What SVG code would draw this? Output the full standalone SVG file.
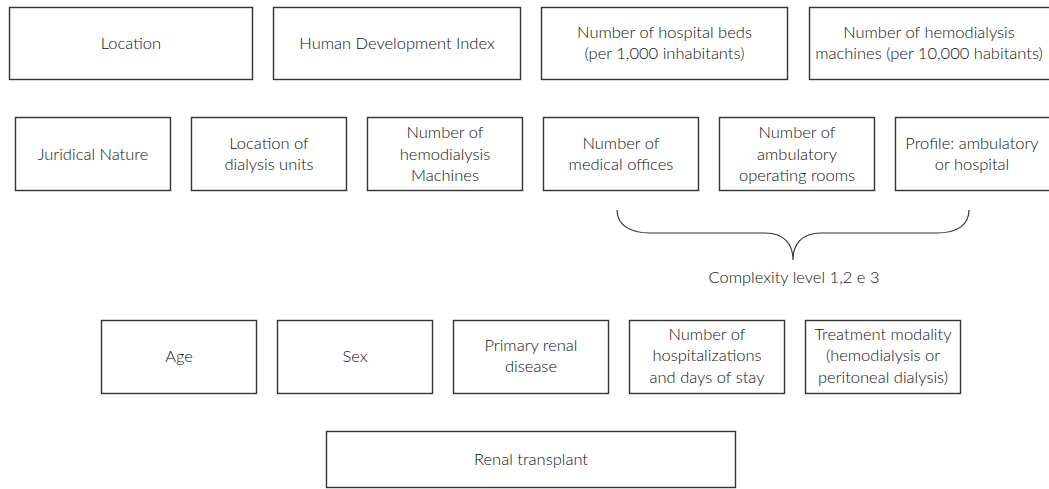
<svg xmlns="http://www.w3.org/2000/svg" width="1049" height="489" viewBox="0 0 1049 489">
<style>
.box{fill:#fff;stroke:#333;stroke-width:1.4}
.t{font-family:Lato,"Noto Sans","Liberation Sans",sans-serif;font-size:16.5px;font-weight:300;fill:#111;text-anchor:middle}
.brace{fill:none;stroke:#333;stroke-width:1.2}
</style>
<rect width="1049" height="489" fill="#fff"/>
<g id="n-location"><rect class="box" x="9.5" y="7.5" width="243" height="72"/><text class="t" x="131" y="49">Location</text></g>
<g id="n-hdi"><rect class="box" x="273.5" y="7.5" width="247" height="72"/><text class="t" x="397" y="49">Human Development Index</text></g>
<g id="n-beds"><rect class="box" x="541.5" y="7.5" width="246" height="72"/><text class="t" x="664.5" y="38">Number of hospital beds</text><text class="t" x="664.5" y="59">(per 1,000 inhabitants)</text></g>
<g id="n-hdmach"><rect class="box" x="809.5" y="7.5" width="245" height="72"/><text class="t" x="929" y="38">Number of hemodialysis</text><text class="t" x="929" y="59">machines (per 10,000 habitants)</text></g>

<g id="n-juridical"><rect class="box" x="15.5" y="117.5" width="155" height="73"/><text class="t" x="93" y="160">Juridical Nature</text></g>
<g id="n-locunits"><rect class="box" x="191.5" y="117.5" width="155" height="73"/><text class="t" x="269" y="149">Location of</text><text class="t" x="269" y="170">dialysis units</text></g>
<g id="n-nhd"><rect class="box" x="367.5" y="117.5" width="155" height="73"/><text class="t" x="445" y="138">Number of</text><text class="t" x="445" y="160">hemodialysis</text><text class="t" x="445" y="181">Machines</text></g>
<g id="n-offices"><rect class="box" x="543.5" y="117.5" width="155" height="73"/><text class="t" x="621" y="149">Number of</text><text class="t" x="621" y="170">medical offices</text></g>
<g id="n-rooms"><rect class="box" x="719.5" y="117.5" width="155" height="73"/><text class="t" x="797" y="138">Number of</text><text class="t" x="797" y="160">ambulatory</text><text class="t" x="797" y="181">operating rooms</text></g>
<g id="n-profile"><rect class="box" x="895.5" y="117.5" width="165" height="73"/><text class="t" x="972" y="149">Profile: ambulatory</text><text class="t" x="972" y="170">or hospital</text></g>

<g id="connectors">
<path class="brace" d="M617,210 C617,225 630,233 650,233 L765,233 C785,233 793,245 793,260 C793,245 801,233 821,233 L937,233 C957,233 969,225 969,210"/>
</g>
<g id="n-complexity"><text class="t" x="794" y="283">Complexity level 1,2 e 3</text></g>

<g id="n-age"><rect class="box" x="101.5" y="320.5" width="155" height="73"/><text class="t" x="179" y="362">Age</text></g>
<g id="n-sex"><rect class="box" x="277.5" y="320.5" width="155" height="73"/><text class="t" x="355" y="362">Sex</text></g>
<g id="n-primary"><rect class="box" x="453.5" y="320.5" width="155" height="73"/><text class="t" x="531" y="351">Primary renal</text><text class="t" x="531" y="372">disease</text></g>
<g id="n-hosp"><rect class="box" x="629.5" y="320.5" width="155" height="73"/><text class="t" x="707" y="340">Number of</text><text class="t" x="707" y="361">hospitalizations</text><text class="t" x="707" y="383">and days of stay</text></g>
<g id="n-modality"><rect class="box" x="805.5" y="320.5" width="155" height="73"/><text class="t" x="883" y="340">Treatment modality</text><text class="t" x="883" y="361">(hemodialysis or</text><text class="t" x="883" y="383">peritoneal dialysis)</text></g>

<g id="n-transplant"><rect class="box" x="326.5" y="431.5" width="409" height="56"/><text class="t" x="531" y="465">Renal transplant</text></g>
</svg>
